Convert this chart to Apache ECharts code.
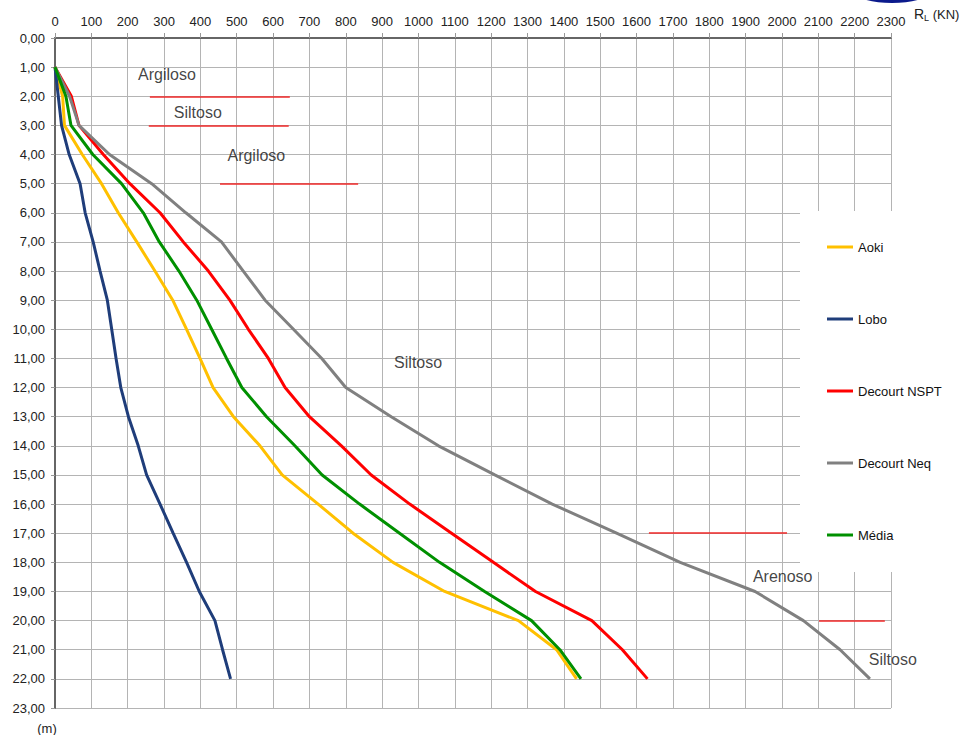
<!DOCTYPE html>
<html>
<head>
<meta charset="utf-8">
<script src="https://cdn.jsdelivr.net/npm/echarts@6/dist/echarts.min.js"></script>
<style>
html,body{margin:0;padding:0;background:#fff;}
#chart{width:966px;height:735px;}
</style>
</head>
<body>
<div id="chart"></div>
<script>
// Depth (m)
var depths = [1,2,3,4,5,6,7,8,9,10,11,12,13,14,15,16,17,18,19,20,21,22];
// Lateral resistance R_L (kN) per method
var aoki   = [0,21,26,75,128,174,225,275,324,362,399,435,491,564,625,724,820,930,1072,1275,1380,1435];
var lobo   = [0,9,18,39,69,83,105,124,144,156,168,181,202,229,252,289,325,362,397,440,461,483];
var decNspt= [0,45,66,133,206,289,353,422,481,532,587,633,700,788,870,976,1091,1206,1322,1477,1561,1630];
var decNeq = [0,40,66,150,266,360,458,518,578,656,734,800,925,1055,1210,1368,1545,1720,1926,2059,2160,2242];
var media  = [0,30,44,104,183,243,287,341,390,431,472,514,582,660,735,838,948,1058,1182,1311,1389,1447];
var seriesNames = ['Aoki','Lobo','Decourt NSPT','Decourt Neq','M\u00e9dia'];

// Soil layer annotations
var annoText = ['Argiloso','Siltoso','Argiloso','Siltoso','Arenoso','Siltoso'];
var annoX    = [308,393,554,999,2002,2305];
var annoDepth= [1.26,2.56,4.03,11.14,18.5,21.34];
// Layer boundary marks
var bndDepth = [2,3,5,17,20];
var bndStart = [261,258,454,1634,2102];
var bndEnd   = [646,643,834,2014,2283];

var colors = ['#FFC000','#1F3D7A','#FF0000','#808080','#009000'];
var values = [aoki,lobo,decNspt,decNeq,media];

function pairs(arr){ return arr.map(function(v,i){ return [v, depths[i]]; }); }

var FONT = "'Liberation Sans', Arial, sans-serif";

var series = values.map(function(arr,i){
  return {
    name: seriesNames[i], type:'line', data: pairs(arr),
    symbol:'none', smooth:false, z: 3,
    lineStyle:{color:colors[i], width:3},
    itemStyle:{color:colors[i]}
  };
});

series.push({
  name:'anno', type:'scatter', clip:false, silent:true, symbolSize:0.01, z:5,
  data: annoText.map(function(t,i){ return [annoX[i], annoDepth[i], t]; }),
  label:{show:true, position:'inside', formatter:function(p){return p.data[2];},
         color:'#111', fontSize:16, fontFamily:FONT},
  markLine:{
    silent:true, symbol:['none','none'], animation:false, z:6,
    label:{show:false},
    emphasis:{disabled:true},
    lineStyle:{color:'#F02828', width:1.6, type:'solid', opacity:1},
    data: bndDepth.map(function(d,i){ return [{coord:[bndStart[i],d]},{coord:[bndEnd[i],d]}]; })
  }
});

var chart = echarts.init(document.getElementById('chart'), null, {renderer:'svg'});
chart.setOption({
  animation:false,
  backgroundColor:'#fff',
  textStyle:{fontFamily:FONT},
  grid:{left:55, top:38, right:75, bottom:24, containLabel:false},
  xAxis:{
    type:'value', position:'top', min:0, max:2300, interval:100,
    axisLine:{show:true, lineStyle:{color:'#666', width:2}},
    axisTick:{show:true, length:5, lineStyle:{color:'#999'}},
    axisLabel:{color:'#222', fontSize:13, margin:10, fontFamily:FONT,
      formatter:function(v){ return String(v); }},
    splitLine:{show:true, lineStyle:{color:'#b4b4b4', width:1}}
  },
  yAxis:{
    type:'value', inverse:true, min:0, max:23, interval:1,
    name:'(m)', nameLocation:'end', nameGap:14,
    nameTextStyle:{color:'#222', fontSize:13, fontFamily:FONT, padding:[0,16,0,0]},
    axisLine:{show:true, onZero:false, lineStyle:{color:'#666', width:2}},
    axisTick:{show:true, length:4, lineStyle:{color:'#999'}},
    axisLabel:{color:'#222', fontSize:13, margin:10, fontFamily:FONT,
      formatter:function(v){ return v.toFixed(2).replace('.',','); }},
    splitLine:{show:true, lineStyle:{color:'#b4b4b4', width:1}}
  },
  legend:{
    data: seriesNames, orient:'vertical', left:800, top:211,
    backgroundColor:'#fff', padding:[29,40,30,27],
    itemGap:58, itemWidth:26, itemHeight:3, icon:'rect',
    textStyle:{color:'#111', fontSize:13, lineHeight:14, fontFamily:FONT}
  },
  graphic:[
    {type:'ellipse', shape:{cx:892, cy:-10, rx:40, ry:13}, style:{fill:'#0b1a8c'}, silent:true},
    {type:'text', left:914, top:7, silent:true,
     style:{text:'{a|R}{s|L}{b| (KN)}',
       rich:{a:{fontSize:14, fill:'#222', fontFamily:FONT},
             s:{fontSize:9, fill:'#222', fontFamily:FONT, padding:[8,0,0,0]},
             b:{fontSize:13, fill:'#222', fontFamily:FONT}}}}
  ],
  series: series
});
</script>
</body>
</html>
